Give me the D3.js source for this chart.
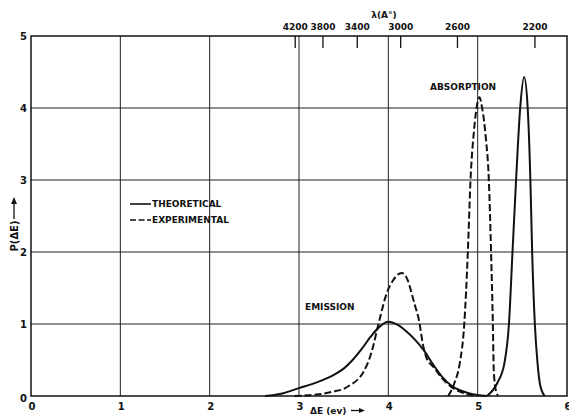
<!DOCTYPE html>
<html>
<head>
<meta charset="utf-8">
<script src="https://cdn.jsdelivr.net/npm/d3@7"></script>
<style>
  body { margin: 0; background: #fff; }
  text { font-family: "DejaVu Sans", sans-serif; font-weight: bold; fill: #111; }
</style>
</head>
<body>
<div id="chart"></div>
<script>
// axis ticks
var xTicks = [0, 1, 2, 3, 4, 5, 6];
var yTicks = [0, 1, 2, 3, 4, 5];
var lambdaTicks = [4200, 3800, 3400, 3000, 2600, 2200];   // Angstrom, top axis

// curves: [deltaE (ev), P(deltaE)]
var theoEmission = [[2.62,0],[2.8,0.03],[3.0,0.11],[3.2,0.19],[3.4,0.3],[3.5,0.38],[3.6,0.5],
  [3.7,0.65],[3.8,0.82],[3.9,0.96],[4.0,1.03],[4.1,0.99],[4.2,0.9],[4.3,0.78],[4.4,0.63],
  [4.5,0.44],[4.6,0.27],[4.7,0.15],[4.8,0.08],[4.9,0.04],[5.0,0.015],[5.1,0]];
var expEmission = [[2.95,0],[3.1,0.01],[3.2,0.02],[3.38,0.06],[3.5,0.1],[3.57,0.15],[3.65,0.22],
  [3.72,0.33],[3.81,0.6],[3.89,1.0],[3.98,1.42],[4.05,1.6],[4.15,1.71],[4.22,1.6],[4.26,1.43],
  [4.3,1.25],[4.34,1.07],[4.39,0.7],[4.43,0.52],[4.5,0.41],[4.6,0.25],[4.7,0.13],[4.8,0.06],
  [4.9,0.02],[5.0,0]];
var expAbsorption = [[4.67,0],[4.74,0.18],[4.8,0.46],[4.85,1.0],[4.89,2.0],[4.92,3.0],[4.96,3.7],
  [4.99,4.02],[5.02,4.15],[5.05,4.0],[5.09,3.6],[5.125,3.0],[5.15,2.0],[5.17,1.0],[5.18,0.37],
  [5.2,0.1],[5.23,0]];
var theoAbsorption = [[5.105,0],[5.22,0.18],[5.3,0.46],[5.35,1.0],[5.39,2.0],[5.43,3.0],[5.476,4.0],
  [5.52,4.43],[5.56,4.0],[5.59,3.0],[5.61,2.0],[5.64,1.0],[5.67,0.46],[5.7,0.15],[5.75,0]];

var W = 569, H = 416;
var svg = d3.select("#chart").append("svg").attr("width", W).attr("height", H);

var x = d3.scaleLinear().domain([0, 6]).range([31, 567]);
var y = d3.scaleLinear().domain([0, 5]).range([396, 36]);

// grid
svg.selectAll("line.hgrid").data(yTicks.slice(1, -1)).enter().append("line")
  .attr("x1", x(0)).attr("x2", x(6))
  .attr("y1", function(d) { return y(d); }).attr("y2", function(d) { return y(d); })
  .attr("stroke", "#222").attr("stroke-width", 1);
svg.selectAll("line.vgrid").data(xTicks.slice(1, -1)).enter().append("line")
  .attr("y1", y(0)).attr("y2", y(5))
  .attr("x1", function(d) { return x(d); }).attr("x2", function(d) { return x(d); })
  .attr("stroke", "#222").attr("stroke-width", 1);

// frame
svg.append("rect").attr("x", x(0)).attr("y", y(5))
  .attr("width", x(6) - x(0)).attr("height", y(0) - y(5))
  .attr("fill", "none").attr("stroke", "#111").attr("stroke-width", 1.5);

// bottom axis labels
svg.selectAll("text.xt").data(xTicks).enter().append("text")
  .attr("x", function(d) { return x(d) + 1; }).attr("y", 410)
  .attr("text-anchor", "middle").style("font-size", "10px")
  .text(function(d) { return d; });

// left axis labels
svg.selectAll("text.yt").data(yTicks).enter().append("text")
  .attr("x", 27).attr("y", function(d) { return y(d) + (d === 0 ? 2 : 0); })
  .attr("dy", "0.35em").attr("text-anchor", "end").style("font-size", "10px")
  .text(function(d) { return d; });

// top axis: wavelength, E = 12398 / lambda
var xTop = d3.axisTop(x).tickValues(lambdaTicks.map(function(l) { return 12398 / l; }))
  .tickSize(-12).tickFormat(function(d, i) { return lambdaTicks[i]; });
var gTop = svg.append("g").attr("transform", "translate(0," + y(5) + ")").call(xTop);
gTop.select(".domain").remove();
gTop.selectAll(".tick line").attr("stroke", "#111").attr("stroke-width", 1.3);
gTop.selectAll(".tick text")
  .attr("y", -6).attr("dy", 0)
  .style("font-family", "DejaVu Sans, sans-serif").style("font-weight", "bold")
  .style("font-size", "9px").attr("fill", "#111");

svg.append("text").attr("x", 384).attr("y", 18).attr("text-anchor", "middle")
  .style("font-size", "9px").text("\u03bb(A\u00b0)");

// axis titles
svg.append("text").attr("transform", "translate(18,236) rotate(-90)")
  .attr("text-anchor", "middle").style("font-size", "10px").text("P(\u0394E)");
svg.append("line").attr("x1", 14).attr("x2", 14).attr("y1", 219).attr("y2", 201)
  .attr("stroke", "#111").attr("stroke-width", 1.3);
svg.append("path").attr("d", "M14,197 L11,204 L17,204 Z").attr("fill", "#111");

svg.append("text").attr("x", 310).attr("y", 414).style("font-size", "9px").text("\u0394E  (ev)");
svg.append("line").attr("x1", 351).attr("x2", 362).attr("y1", 410.5).attr("y2", 410.5)
  .attr("stroke", "#111").attr("stroke-width", 1.3);
svg.append("path").attr("d", "M365,410.5 L359,408 L359,413 Z").attr("fill", "#111");

// curves
var line = d3.line().x(function(d) { return x(d[0]); }).y(function(d) { return y(d[1]); })
  .curve(d3.curveMonotoneX);

var curves = [
  { data: theoEmission, dash: null },
  { data: expEmission, dash: "7,3" },
  { data: expAbsorption, dash: "7,3" },
  { data: theoAbsorption, dash: null }
];
svg.selectAll("path.curve").data(curves).enter().append("path")
  .attr("class", "curve")
  .attr("d", function(d) { return line(d.data); })
  .attr("fill", "none").attr("stroke", "#111").attr("stroke-width", 2)
  .attr("stroke-dasharray", function(d) { return d.dash; });

// legend
var legend = [{ label: "THEORETICAL", dash: null }, { label: "EXPERIMENTAL", dash: "6,2.5" }];
var lg = svg.selectAll("g.legend").data(legend).enter().append("g")
  .attr("transform", function(d, i) { return "translate(130," + (204 + i * 16) + ")"; });
lg.append("line").attr("x1", 0).attr("x2", 21).attr("y1", 0).attr("y2", 0)
  .attr("stroke", "#111").attr("stroke-width", 1.6)
  .attr("stroke-dasharray", function(d) { return d.dash; });
lg.append("text").attr("x", 22).attr("dy", "0.35em").style("font-size", "9px")
  .text(function(d) { return d.label; });

// annotations
svg.append("text").attr("x", 430).attr("y", 90).style("font-size", "9px").text("ABSORPTION");
svg.append("text").attr("x", 305).attr("y", 310).style("font-size", "9px").text("EMISSION");
</script>
</body>
</html>
